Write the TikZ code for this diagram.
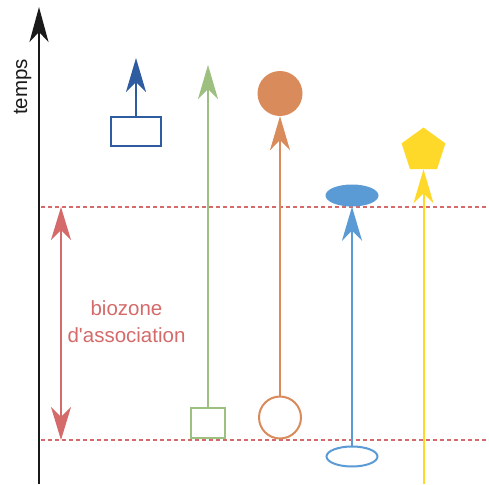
\documentclass[tikz,border=0pt]{standalone}
\usepackage{fontspec}
\setmainfont{Liberation Sans}
\usetikzlibrary{arrows.meta,shapes.geometric}

\definecolor{axisblack}{HTML}{1A1A1A}
\definecolor{zonered}{HTML}{D46A6A}
\definecolor{darkblue}{HTML}{2F5CA0}
\definecolor{sage}{HTML}{9DBF80}
\definecolor{ochre}{HTML}{D98B5B}
\definecolor{skyblue}{HTML}{5B9BD5}
\definecolor{gold}{HTML}{FFD92A}

\tikzset{
  head/.style={-{Stealth[length=34pt,width=20pt,inset=10pt]}},
  lineage/.style={line width=2pt, head},
  boundary/.style={zonered, line width=1.5pt, dash pattern=on 4pt off 3pt},
  openbox/.style={line width=2pt, fill=white, inner sep=0pt},
  label/.style={font=\fontsize{20.5}{27}\selectfont, inner sep=0pt}
}

\begin{document}
\begin{tikzpicture}[x=1pt,y=-1pt]
  \useasboundingbox (0,0) rectangle (489,484);

  % time axis
  \coordinate (t0) at (39,484);
  \coordinate (t1) at (39,7);
  \draw[axisblack, line width=2pt, -{Stealth[length=35pt,width=19pt,inset=10pt]}] (t0) -- (t1);
  \node[label, rotate=90, text=axisblack] (temps) at (22.5,87) {temps};

  % limits of the association biozone
  \coordinate (topL) at (41,207);
  \coordinate (topR) at (489,207);
  \coordinate (botL) at (41,440);
  \coordinate (botR) at (489,440);
  \draw[boundary] (topL) -- (topR);
  \draw[boundary] (botL) -- (botR);

  \coordinate (zTop) at (61,207);
  \coordinate (zBot) at (61,440);
  \draw[zonered, line width=2pt,
        {Stealth[length=33pt,width=20pt,inset=10pt]}-{Stealth[length=33pt,width=20pt,inset=10pt]}]
        (zBot) -- (zTop);
  \node[label, text=zonered, align=center] (bz) at (126.5,322) {biozone\\d\textquotesingle association};

  % taxon 1: dark blue
  \node[openbox, draw=darkblue, minimum width=50pt, minimum height=29pt] (b1) at (136,131.5) {};
  \coordinate (b1top) at (136,58);
  \draw[lineage, darkblue, line width=2.3pt] (b1) -- (b1top);

  % taxon 2: green
  \node[openbox, draw=sage, minimum width=34pt, minimum height=30pt] (g1) at (208,422.5) {};
  \coordinate (g1top) at (208,65);
  \draw[lineage, sage] (g1) -- (g1top);

  % taxon 3: orange
  \node[circle, draw=ochre, line width=2pt, fill=white, inner sep=0pt, minimum size=42pt] (o1) at (280,417.5) {};
  \node[circle, fill=ochre, inner sep=0pt, minimum size=45pt] (o2) at (280,93.5) {};
  \draw[lineage, ochre] (o1) -- (o2);

  % taxon 4: light blue
  \node[ellipse, draw=skyblue, line width=2pt, fill=white, inner sep=0pt, minimum width=51pt, minimum height=20pt] (s1) at (352,456.5) {};
  \node[ellipse, fill=skyblue, inner sep=0pt, minimum width=53pt, minimum height=22pt] (s2) at (352,195.5) {};
  \draw[lineage, skyblue] (s1) -- (s2);

  % taxon 5: yellow
  \coordinate (y0) at (423.5,484);
  \node[regular polygon, regular polygon sides=5, fill=gold, inner sep=0pt, minimum size=46pt] (p1) at (423.5,150.5) {};
  \draw[lineage, gold] (y0) -- (p1);
\end{tikzpicture}
\end{document}
